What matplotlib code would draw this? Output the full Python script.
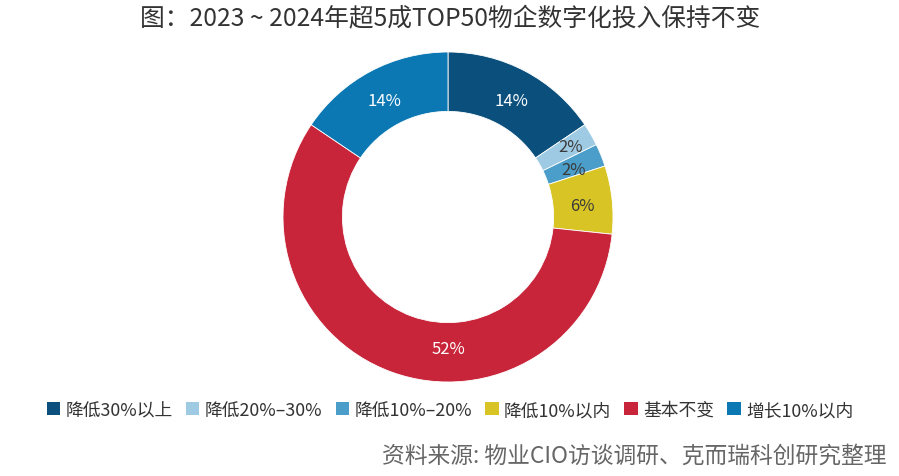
import matplotlib
matplotlib.use("Agg")
import matplotlib.pyplot as plt
from matplotlib.patches import Patch

plt.rcParams['font.family'] = ['Noto Sans CJK SC', 'DejaVu Sans']

title = "图：2023 ~ 2024年超5成TOP50物企数字化投入保持不变"
source = "资料来源: 物业CIO访谈调研、克而瑞科创研究整理"
categories = ["降低30%以上", "降低20%–30%", "降低10%–20%", "降低10%以内", "基本不变", "增长10%以内"]
values = [14, 2, 2, 6, 52, 14]
colors = ["#0b4f7c", "#9ecae3", "#4b9ec9", "#d8c424", "#c8243a", "#0b78b3"]
label_colors = ["white", "#3a3a3a", "#3a3a3a", "#3a3a3a", "white", "white"]

fig = plt.figure(figsize=(8.99, 4.77), dpi=100)
W, H = 899, 477
cx, cy, R = 448, 218, 165
ax = fig.add_axes([(cx - R) / W, (H - cy - R) / H, 2 * R / W, 2 * R / H])

wedges, texts = ax.pie(values, colors=colors, startangle=90, counterclock=False,
                       radius=1.0, labels=[f"{v}%" for v in values],
                       labeldistance=0.82,
                       wedgeprops=dict(width=0.36, edgecolor="white", linewidth=0.6))
for t, c in zip(texts, label_colors):
    t.set_color(c)
    t.set_fontsize(12)
    t.set_ha("center")
    t.set_va("center")
    x, y = t.get_position()
    t.set_position((x, y - 0.018))
texts[1].set_position((0.74, 0.43))
# the big slice label sits at the bottom of the ring
texts[4].set_position((0.0, -0.80))
ax.set_xlim(-1, 1)
ax.set_ylim(-1, 1)
ax.set_aspect("equal")
ax.axis("off")

fig.text(450 / W, 1 - 19 / H, title, ha="center", va="center", fontsize=17.8, color="#333333")

handles = [Patch(facecolor=c, edgecolor="none") for c in colors]
fig.legend(handles, categories, loc="center", bbox_to_anchor=(450 / W, 1 - 411 / H), ncol=6,
           frameon=False, fontsize=12.8, handlelength=0.75, handleheight=0.75,
           handletextpad=0.3, columnspacing=0.75, labelcolor="#333333")

fig.text(886 / W, 1 - 456 / H, source, ha="right", va="center", fontsize=16.4, color="#666666")

fig.savefig("out.png", dpi=100)
